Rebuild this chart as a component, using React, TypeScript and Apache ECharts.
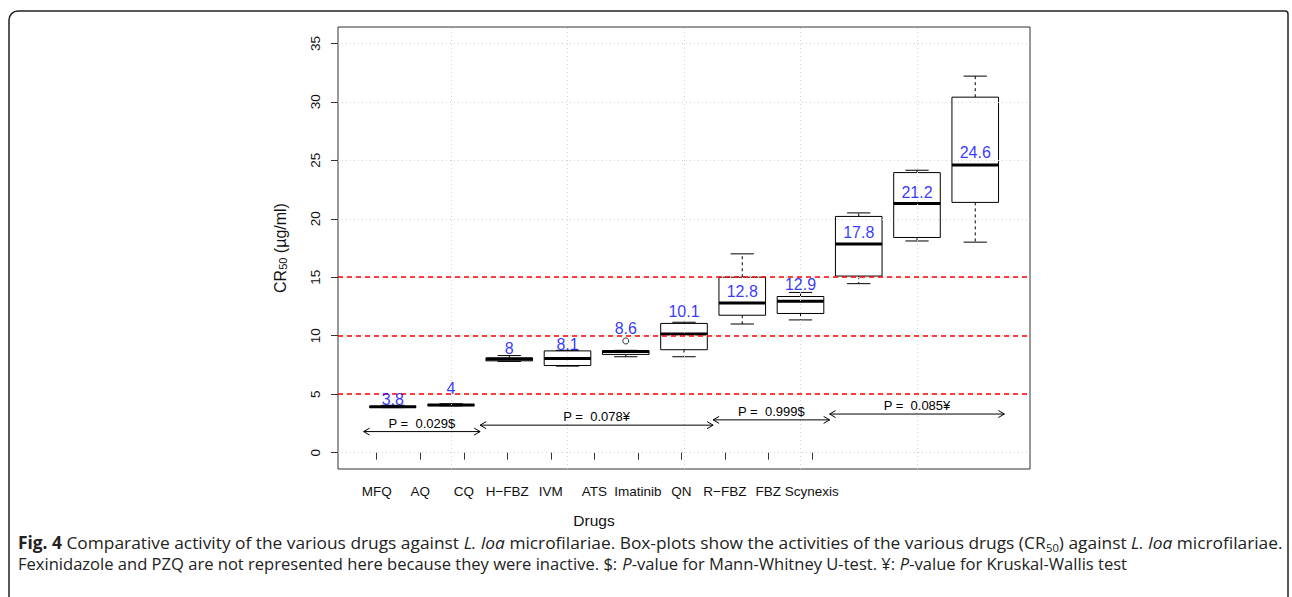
import React, { useEffect, useRef } from 'react';
import * as echarts from 'echarts';

// ---- data ----
const drugs = ['MFQ', 'AQ', 'CQ', 'H−FBZ', 'IVM', 'ATS', 'Imatinib', 'QN', 'R−FBZ', 'FBZ', 'Scynexis'];
const boxPositions = [1, 2, 3, 4, 5, 6, 7, 8, 9, 10, 11];
const whiskerLow = [3.85, 4.0, 7.8, 7.4, 8.2, 8.2, 11.0, 11.35, 14.45, 18.1, 18.0];
const quartile1 = [3.88, 4.02, 7.85, 7.45, 8.4, 8.8, 11.75, 11.9, 15.1, 18.4, 21.4];
const medians = [3.92, 4.07, 8.0, 8.05, 8.65, 10.15, 12.8, 12.95, 17.85, 21.3, 24.6];
const quartile3 = [3.95, 4.1, 8.1, 8.7, 8.72, 11.05, 15.0, 13.35, 20.2, 23.95, 30.4];
const whiskerHigh = [4.05, 4.18, 8.3, 8.75, 8.75, 11.15, 17.0, 13.7, 20.5, 24.15, 32.2];
const outlierPoints = [[5, 9.55]];
const medianLabels = ['3.8', '4', '8', '8.1', '8.6', '10.1', '12.8', '12.9', '17.8', '21.2', '24.6'];
const medianLabelY = [4.56, 5.5, 8.92, 9.26, 10.6, 12.06, 13.74, 14.37, 18.81, 22.23, 25.68];
const drugTickPositions = [0.725, 1.472, 2.219, 2.966, 3.713, 4.46, 5.207, 5.954, 6.701, 7.448, 8.195];
const yTicks = [0, 5, 10, 15, 20, 25, 30, 35];
const gridX = [2, 4, 6, 8, 10];
const thresholds = [5, 10, 15];
const pFrom = [0.5, 2.5, 6.5, 8.5];
const pTo = [2.5, 6.5, 8.5, 11.5];
const pY = [1.8, 2.35, 2.8, 3.3];
const pLabels = ['P =  0.029$', 'P =  0.078¥', 'P =  0.999$', 'P =  0.085¥'];
const captionLine1 = '{b|Fig. 4} Comparative activity of the various drugs against {i|L. loa} microfilariae. Box-plots show the activities of the various drugs (CR{s|50}) against {i|L. loa} microfilariae.';
const captionLine2 = 'Fexinidazole and PZQ are not represented here because they were inactive. $: {i|P}-value for Mann-Whitney U-test. ¥: {i|P}-value for Kruskal-Wallis test';

const FONT = '"Liberation Sans", Arial, sans-serif';
const CAP_FONT = '"Open Sans", "Noto Sans", sans-serif';

export default function App() {
  const ref = useRef<HTMLDivElement>(null);

  useEffect(() => {
    if (!ref.current) return;
    const chart = echarts.init(ref.current, undefined, { renderer: 'svg' });

    const boxData = boxPositions.map((x, i) => [x, whiskerLow[i], quartile1[i], medians[i], quartile3[i], whiskerHigh[i]]);
    const labelData = boxPositions.map((x, i) => [x, medianLabelY[i], medianLabels[i]]);
    const arrowData = pFrom.map((f, i) => [f, pTo[i], pY[i]]);

    const nearestDrug = (v: number) => {
      let best = 0;
      let bd = Infinity;
      drugTickPositions.forEach((p, i) => {
        const d = Math.abs(p - v);
        if (d < bd) { bd = d; best = i; }
      });
      return drugs[best];
    };

    const capSize = 17;
    const capLH = 21;
    const capStyle = (text: string) => ({
      text,
      fontSize: capSize, fontFamily: CAP_FONT, fill: '#222', lineHeight: capLH, verticalAlign: 'middle',
      rich: {
        b: { fontSize: capSize, fontFamily: CAP_FONT, fontWeight: 'bold', fill: '#222', lineHeight: capLH },
        i: { fontSize: capSize, fontFamily: CAP_FONT, fontStyle: 'italic', fill: '#222', lineHeight: capLH },
        s: { fontSize: 11, fontFamily: CAP_FONT, fill: '#222', lineHeight: capLH, verticalAlign: 'bottom' },
      },
    });

    const option: any = {
      animation: false,
      backgroundColor: '#ffffff',
      grid: { left: 338, top: 27, width: 692, height: 442, show: true, borderColor: '#333', borderWidth: 1, backgroundColor: 'transparent' },
      xAxis: {
        type: 'value', min: 0.06, max: 11.94,
        splitLine: { show: false },
        axisLine: { show: false },
        axisTick: { show: true, customValues: drugTickPositions, length: 7, lineStyle: { color: '#333' } },
        axisLabel: { customValues: drugTickPositions, formatter: (v: number) => nearestDrug(v), margin: 15, fontSize: 13.5, color: '#111', fontFamily: FONT },
      },
      yAxis: {
        type: 'value', min: -1.4, max: 36.4,
        splitLine: { show: false },
        axisLine: { show: false },
        axisTick: { show: true, customValues: yTicks, length: 7, lineStyle: { color: '#333' } },
        axisLabel: { customValues: yTicks, rotate: 90, margin: 16, fontSize: 13.5, color: '#111', fontFamily: FONT },
        name: '{a|CR}{s|50}{a| (µg/ml)}',
        nameLocation: 'middle',
        nameGap: 50,
        nameRotate: 90,
        nameTextStyle: {
          rich: {
            a: { fontSize: 16, fontFamily: FONT, color: '#111' },
            s: { fontSize: 11, fontFamily: FONT, color: '#111', verticalAlign: 'bottom' },
          },
        },
      },
      series: [
        {
          type: 'line', data: [], z: 1, silent: true,
          markLine: {
            silent: true, symbol: ['none', 'none'], label: { show: false },
            lineStyle: { color: '#d3d3d3', type: [1, 3], width: 1 },
            data: [...yTicks.map((v) => ({ yAxis: v })), ...gridX.map((v) => ({ xAxis: v }))],
          },
        },
        {
          type: 'custom', z: 2, silent: true,
          data: boxData,
          renderItem: (params: any, api: any) => {
            const x = api.value(0);
            const lo = api.coord([x, api.value(1)]);
            const q1 = api.coord([x, api.value(2)]);
            const md = api.coord([x, api.value(3)]);
            const q3 = api.coord([x, api.value(4)]);
            const hi = api.coord([x, api.value(5)]);
            const half = api.size([0.4, 0])[0];
            const cap = api.size([0.2, 0])[0];
            const cx = q1[0];
            const dash = { stroke: '#000', lineWidth: 1, lineDash: [3, 3] };
            const solid = { stroke: '#000', lineWidth: 1 };
            return {
              type: 'group',
              children: [
                { type: 'line', shape: { x1: cx, y1: q3[1], x2: cx, y2: hi[1] }, style: dash },
                { type: 'line', shape: { x1: cx, y1: q1[1], x2: cx, y2: lo[1] }, style: dash },
                { type: 'line', shape: { x1: cx - cap, y1: hi[1], x2: cx + cap, y2: hi[1] }, style: solid },
                { type: 'line', shape: { x1: cx - cap, y1: lo[1], x2: cx + cap, y2: lo[1] }, style: solid },
                { type: 'rect', shape: { x: cx - half, y: q3[1], width: 2 * half, height: Math.max(q1[1] - q3[1], 0.5) }, style: { fill: '#fff', stroke: '#000', lineWidth: 1 } },
                { type: 'line', shape: { x1: cx - half, y1: md[1], x2: cx + half, y2: md[1] }, style: { stroke: '#000', lineWidth: 3 } },
              ],
            };
          },
        },
        {
          type: 'scatter', z: 3, silent: true,
          data: outlierPoints,
          symbol: 'circle', symbolSize: 6,
          itemStyle: { color: 'transparent', borderColor: '#000', borderWidth: 1 },
        },
        {
          type: 'line', data: [], z: 4, silent: true,
          markLine: {
            silent: true, symbol: ['none', 'none'], label: { show: false },
            lineStyle: { color: '#ff0000', type: [5, 4], width: 1.5 },
            data: thresholds.map((v) => ({ yAxis: v })),
          },
        },
        {
          type: 'scatter', z: 5, silent: true,
          data: labelData,
          symbolSize: 0,
          label: {
            show: true, position: 'inside',
            formatter: (p: any) => p.value[2],
            fontSize: 16, fontFamily: FONT, color: '#0000ff',
          },
        },
        {
          type: 'custom', z: 5, silent: true,
          data: arrowData,
          renderItem: (params: any, api: any) => {
            const y = api.value(2);
            const a = api.coord([api.value(0), y]);
            const b = api.coord([api.value(1), y]);
            const hx = 6;
            const hy = 3.5;
            const st = { stroke: '#000', lineWidth: 1, fill: 'none' };
            return {
              type: 'group',
              children: [
                { type: 'line', shape: { x1: a[0], y1: a[1], x2: b[0], y2: b[1] }, style: st },
                { type: 'polyline', shape: { points: [[a[0] + hx, a[1] - hy], [a[0], a[1]], [a[0] + hx, a[1] + hy]] }, style: st },
                { type: 'polyline', shape: { points: [[b[0] - hx, b[1] - hy], [b[0], b[1]], [b[0] - hx, b[1] + hy]] }, style: st },
                {
                  type: 'text', x: (a[0] + b[0]) / 2, y: a[1] - 8.5,
                  style: { text: pLabels[params.dataIndex], fontSize: 13, fontFamily: FONT, fill: '#000', align: 'center', verticalAlign: 'middle' },
                },
              ],
            };
          },
        },
      ],
      graphic: [
        {
          type: 'rect', silent: true,
          shape: { x: 9, y: 11, width: 1279, height: 620, r: [9, 3, 0, 0] },
          style: { fill: 'none', stroke: '#222', lineWidth: 1.5 },
        },
        {
          type: 'text', silent: true, x: 594, y: 520,
          style: { text: 'Drugs', fontSize: 15.5, fontFamily: FONT, fill: '#111', align: 'center', verticalAlign: 'middle' },
        },
        { type: 'text', silent: true, x: 18, y: 542.5, scaleX: 1.02, originX: 0, style: capStyle(captionLine1) },
        { type: 'text', silent: true, x: 18, y: 563.5, scaleX: 0.975, originX: 0, style: capStyle(captionLine2) },
      ],
    };

    chart.setOption(option);
    return () => chart.dispose();
  }, []);

  return <div ref={ref} style={{ position: 'absolute', left: 0, top: 0, width: 1292, height: 597, background: '#fff' }} />;
}
